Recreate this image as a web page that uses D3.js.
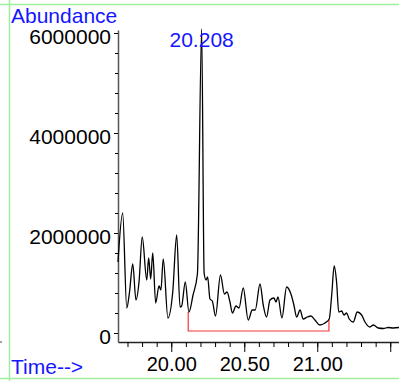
<!DOCTYPE html>
<html>
<head>
<meta charset="utf-8">
<script src="https://cdn.jsdelivr.net/npm/d3@7"></script>
<style>
  body { margin: 0; background: #fff; }
  svg { display: block; font-family: Arial, "Liberation Sans", sans-serif; }
</style>
</head>
<body>
<svg id="chart" width="399" height="381"></svg>
<script>
// retention time (min) and abundance
const times = [19.635, 19.667, 19.695, 19.714, 19.736, 19.758, 19.779, 19.801, 19.832, 19.845,
  19.859, 19.873, 19.893, 19.916, 19.929, 19.945, 19.977, 20.010, 20.037, 20.060,
  20.071, 20.096, 20.121, 20.149, 20.179, 20.208, 20.225, 20.238, 20.249, 20.265,
  20.281, 20.303, 20.337, 20.364, 20.382, 20.402, 20.419, 20.443, 20.464, 20.493,
  20.527, 20.555, 20.575, 20.608, 20.630, 20.653, 20.676, 20.703, 20.717, 20.731,
  20.758, 20.790, 20.822, 20.840, 20.859, 20.882, 20.904, 20.932, 20.957, 20.984,
  21.018, 21.053, 21.082, 21.099, 21.116, 21.133, 21.147, 21.167, 21.183, 21.201,
  21.219, 21.247, 21.274, 21.304, 21.327, 21.361, 21.384, 21.418, 21.452, 21.486,
  21.521, 21.560];
const abundance = [1420000, 2400000, 500000, 820000, 1380000, 660000, 1020000, 1920000, 1060000, 1500000,
  1080000, 1600000, 600000, 940000, 860000, 1480000, 300000, 820000, 1960000, 520000,
  540000, 1020000, 420000, 760000, 1180000, 6080000, 1200000, 1060000, 1120000, 680000,
  640000, 340000, 1160000, 780000, 820000, 620000, 400000, 540000, 500000, 900000,
  260000, 460000, 460000, 980000, 560000, 320000, 660000, 700000, 620000, 720000,
  300000, 920000, 760000, 560000, 320000, 460000, 280000, 320000, 340000, 260000,
  160000, 200000, 280000, 760000, 1340000, 1000000, 420000, 440000, 360000, 400000,
  280000, 220000, 420000, 360000, 220000, 120000, 160000, 100000, 90000, 110000,
  100000, 110000];

// integration baseline (start time, end time, values)
const integStart = 20.116, integEnd = 21.080;
const integStartTop = 420000, integEndTop = 260000, integBase = 40000;
const peakTime = 20.208, peakLabel = "20.208";

const xMajor = [20.0, 20.5, 21.0, 21.5];
const xLabels = ["20.00", "20.50", "21.00", ""];
const xMinor = d3.range(19.7, 21.55, 0.1);
const yMajor = [0, 2000000, 4000000, 6000000];
const yMinor = d3.range(0, 6000001, 400000);

const data = times.map((t, i) => ({ t: t, v: abundance[i] }));

const svg = d3.select("#chart");
const font = "Arial, 'Liberation Sans', sans-serif";

const x = d3.scaleLinear().domain([19.635, 21.56]).range([118, 399]);
const y = d3.scaleLinear().domain([-180000, 6060000]).range([342, 30]);

// green frame lines
svg.append("line").attr("x1", 0).attr("x2", 399).attr("y1", 4.5).attr("y2", 4.5)
  .attr("stroke", "#9ef09e").attr("stroke-width", 1.5);
svg.append("line").attr("x1", 9.5).attr("x2", 9.5).attr("y1", 0).attr("y2", 381)
  .attr("stroke", "#9ef09e").attr("stroke-width", 1.5);
svg.append("line").attr("x1", 0).attr("x2", 399).attr("y1", 378.5).attr("y2", 378.5)
  .attr("stroke", "#9ef09e").attr("stroke-width", 1.5);
svg.append("line").attr("x1", 0).attr("x2", 2).attr("y1", 342).attr("y2", 342)
  .attr("stroke", "#444").attr("stroke-width", 1);

// x axis
const xAxisMinor = svg.append("g").attr("transform", "translate(0,342)")
  .call(d3.axisBottom(x).tickValues(xMinor).tickSize(5).tickSizeOuter(0).tickFormat(""));
xAxisMinor.select(".domain").attr("stroke", "#222").attr("stroke-width", 1.3);
const xAxis = svg.append("g").attr("transform", "translate(0,342)")
  .call(d3.axisBottom(x).tickValues(xMajor).tickSize(10).tickSizeOuter(0).tickPadding(5)
    .tickFormat((d, i) => xLabels[i]));
xAxis.select(".domain").remove();
xAxis.selectAll("text").attr("font-size", 20).attr("fill", "#000").attr("font-family", font);

// y axis
const yAxisMinor = svg.append("g").attr("transform", "translate(118,0)")
  .call(d3.axisLeft(y).tickValues(yMinor).tickSize(3).tickSizeOuter(0).tickFormat(""));
yAxisMinor.select(".domain").attr("stroke", "#555").attr("stroke-width", 1.5);
const yAxis = svg.append("g").attr("transform", "translate(118,0)")
  .call(d3.axisLeft(y).tickValues(yMajor).tickSize(4).tickPadding(3).tickFormat(d3.format("d")));
yAxis.select(".domain").remove();
yAxis.selectAll("text").attr("font-size", 21).attr("fill", "#000").attr("dy", "0.5em")
  .attr("font-family", font);

// integration baseline in red
const integPath = d3.path();
integPath.moveTo(x(integStart), y(integStartTop));
integPath.lineTo(x(integStart), y(integBase));
integPath.lineTo(x(integEnd), y(integBase));
integPath.lineTo(x(integEnd), y(integEndTop));
svg.append("path").attr("d", integPath.toString())
  .attr("fill", "none").attr("stroke", "#f53838").attr("stroke-width", 1.2);

// chromatogram trace
const line = d3.line()
  .x(d => x(d.t))
  .y(d => y(d.v))
  .curve(d3.curveMonotoneX);
svg.append("path").datum(data).attr("d", line)
  .attr("fill", "none").attr("stroke", "#000").attr("stroke-width", 1.3);

// texts
svg.append("text").attr("x", 11).attr("y", 23).attr("font-size", 21).attr("fill", "#1515ff")
  .text("Abundance");
svg.append("text").attr("x", 11).attr("y", 374).attr("font-size", 21).attr("fill", "#1515ff")
  .text("Time-->");
svg.append("text").attr("x", x(peakTime)).attr("y", 47).attr("font-size", 21)
  .attr("fill", "#1515ff").attr("text-anchor", "middle").text(peakLabel);
</script>
</body>
</html>
